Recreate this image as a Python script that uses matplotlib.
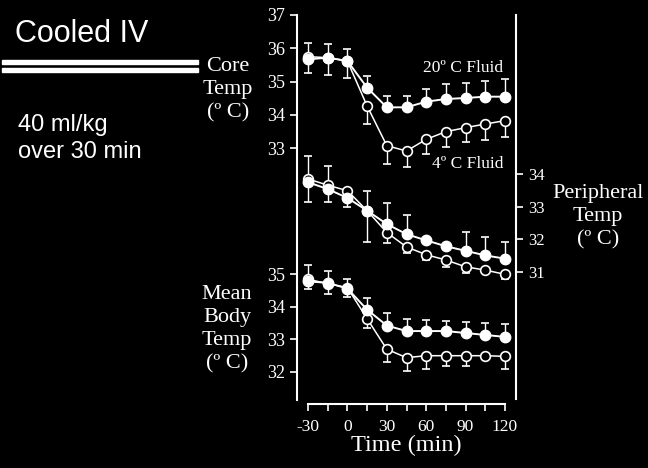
#!/usr/bin/env python
# coding:utf-8

"""
cooled_iv.py
"""

import matplotlib
matplotlib.use("Agg")
import matplotlib.pyplot as plt
from matplotlib.patches import Rectangle
import numpy as np


time_min = [-30, -15, 0, 15, 30, 45, 60, 75, 90, 105, 120]
time_ticks = [-30, 0, 30, 60, 90, 120]

# core temperature
core_20 = [35.67, 35.72, 35.62, 34.82, 34.23, 34.23, 34.40, 34.48, 34.51, 34.55, 34.55]
core_20_up = [0.50, 0.40, 0.35, 0.35, 0.34, 0.34, 0.37, 0.44, 0.44, 0.47, 0.52]
core_20_dn = [0, 0, 0, 0, 0, 0, 0, 0, 0, 0, 0]
core_4 = [35.75, 35.72, 35.62, 34.27, 33.08, 32.92, 33.27, 33.50, 33.62, 33.73, 33.83]
core_4_up = [0, 0, 0, 0, 0, 0, 0, 0, 0, 0, 0]
core_4_dn = [0.48, 0.52, 0.52, 0.54, 0.55, 0.47, 0.45, 0.45, 0.42, 0.48, 0.48]
core_ticks = [33, 34, 35, 36, 37]

# peripheral temperature
per_20 = [33.75, 33.54, 33.27, 32.88, 32.47, 32.16, 31.97, 31.79, 31.65, 31.51, 31.41]
per_20_up = [0.80, 0, 0, 0.61, 0.63, 0.58, 0, 0, 0.58, 0.55, 0.52]
per_20_dn = [0.60, 0.39, 0.29, 0.95, 0, 0, 0, 0, 0, 0, 0]
per_4 = [33.85, 33.66, 33.49, 32.88, 32.21, 31.77, 31.53, 31.37, 31.16, 31.06, 30.93]
per_4_up = [0, 0.58, 0, 0, 0, 0, 0, 0, 0, 0, 0]
per_4_dn = [0, 0, 0, 0, 0.31, 0.20, 0.16, 0.23, 0.20, 0, 0.14]
per_ticks = [31, 32, 33, 34]

# mean body temperature
mean_20 = [34.78, 34.74, 34.56, 33.91, 33.42, 33.25, 33.25, 33.25, 33.19, 33.13, 33.07]
mean_20_up = [0, 0, 0, 0.36, 0.40, 0.38, 0.35, 0.31, 0.34, 0.37, 0.39]
mean_20_dn = [0.24, 0.34, 0.26, 0, 0, 0, 0, 0, 0, 0, 0]
mean_4 = [34.85, 34.71, 34.59, 33.63, 32.69, 32.43, 32.49, 32.49, 32.49, 32.49, 32.47]
mean_4_up = [0.43, 0.39, 0.28, 0, 0, 0, 0, 0, 0, 0, 0]
mean_4_dn = [0, 0, 0, 0.28, 0.38, 0.41, 0.40, 0.33, 0.33, 0, 0.38]
mean_ticks = [32, 33, 34, 35]

SERIF = "Liberation Serif"
SANS = "Liberation Sans"
W, H = 648, 468


def px(x, y):
    """pixel position -> figure fraction"""
    return x / W, 1 - y / H


def draw_errors(ax, y, up, dn):
    """one sided error bars, drawn under the markers"""
    x = np.asarray(time_min, dtype=float)
    y = np.asarray(y, dtype=float)
    for err, side in ((np.asarray(up, dtype=float), "up"),
                      (np.asarray(dn, dtype=float), "dn")):
        m = err > 0
        if not m.any():
            continue
        zero = np.zeros(m.sum())
        yerr = [zero, err[m]] if side == "up" else [err[m], zero]
        ax.errorbar(x[m], y[m], yerr=yerr, fmt="none", ecolor="white",
                    elinewidth=1.0, capsize=3, capthick=1.2, zorder=2)


def draw_pair(ax, y20, up20, dn20, y4, up4, dn4):
    """filled (20 C) and open (4 C) series"""
    draw_errors(ax, y20, up20, dn20)
    draw_errors(ax, y4, up4, dn4)
    ax.plot(time_min, y4, color="white", lw=1.1, marker="o", ms=7,
            mfc="black", mec="white", mew=1.2, zorder=3)
    ax.plot(time_min, y20, color="white", lw=1.4, marker="o", ms=7.5,
            mfc="white", mec="white", zorder=4)


def style_ax(ax):
    ax.set_facecolor("none")
    for s in ax.spines.values():
        s.set_visible(False)
    ax.set_xlim(-38.4, 128.4)
    ax.tick_params(colors="white", width=1.2, length=5, labelsize=13)


def main():
    plt.rcParams["font.family"] = [SERIF, "DejaVu Serif"]
    plt.rcParams["axes.unicode_minus"] = False
    fig = plt.figure(figsize=(6.48, 4.68), dpi=100, facecolor="black")

    l, b = px(297, 404)
    r, t = px(516, 15)
    rect = [l, b, r - l, t - b]

    ax_core = fig.add_axes(rect)
    ax_per = fig.add_axes(rect, sharex=ax_core)
    ax_mean = fig.add_axes(rect, sharex=ax_core)
    for ax in (ax_core, ax_per, ax_mean):
        style_ax(ax)

    # core
    ax_core.set_ylim(25.33, 37)
    ax_core.spines["left"].set_visible(True)
    ax_core.spines["left"].set_color("white")
    ax_core.spines["left"].set_linewidth(1.5)
    ax_core.spines["left"].set_bounds(25.45, 37)
    ax_core.spines["bottom"].set_visible(True)
    ax_core.spines["bottom"].set_color("white")
    ax_core.spines["bottom"].set_linewidth(1.5)
    ax_core.spines["bottom"].set_bounds(-30, 120)
    ax_core.set_yticks(core_ticks)
    ax_core.set_xticks(time_ticks)
    ax_core.set_xticks(time_min, minor=True)
    ax_core.tick_params(axis="x", which="both", length=5, width=1.2,
                        colors="white", labelsize=12.5, pad=6)
    ax_core.set_xlabel("Time (min)", color="white", fontsize=17.5,
                       labelpad=0)
    draw_pair(ax_core, core_20, core_20_up, core_20_dn,
              core_4, core_4_up, core_4_dn)

    # peripheral
    ax_per.set_ylim(26.96, 38.87)
    ax_per.spines["right"].set_visible(True)
    ax_per.spines["right"].set_color("white")
    ax_per.spines["right"].set_linewidth(1.5)
    ax_per.spines["right"].set_bounds(27.11, 38.87)
    ax_per.yaxis.tick_right()
    ax_per.set_yticks(per_ticks)
    ax_per.tick_params(axis="y", labelsize=12)
    ax_per.tick_params(axis="x", which="both", bottom=False,
                       labelbottom=False)
    draw_pair(ax_per, per_20, per_20_up, per_20_dn,
              per_4, per_4_up, per_4_dn)

    # mean body
    ax_mean.set_ylim(31, 43)
    ax_mean.set_yticks(mean_ticks)
    ax_mean.tick_params(axis="x", which="both", bottom=False,
                        labelbottom=False)
    draw_pair(ax_mean, mean_20, mean_20_up, mean_20_dn,
              mean_4, mean_4_up, mean_4_dn)

    # labels
    lab = dict(color="white", fontsize=16, ha="center", va="center",
               linespacing=1.28)
    fig.text(*px(228, 90), "Core\nTemp\n(º C)", **lab)
    fig.text(*px(227, 329), "Mean\nBody\nTemp\n(º C)", **lab)
    fig.text(*px(598, 217), "Peripheral\nTemp\n(º C)", **lab)
    fig.text(*px(503, 68), "20º C Fluid", color="white", fontsize=12.5,
             ha="right", va="center")
    fig.text(*px(503, 164), "4º C Fluid", color="white", fontsize=12.5,
             ha="right", va="center")

    fig.text(*px(15, 34), "Cooled IV", color="white", fontsize=22,
             family=SANS, ha="left", va="center")
    fig.text(*px(18, 125), "40 ml/kg", color="white", fontsize=17,
             family=SANS, ha="left", va="center")
    fig.text(*px(18, 152), "over 30 min", color="white", fontsize=17,
             family=SANS, ha="left", va="center")
    for y0 in (60, 68):
        x0, y1 = px(2, y0 + 4)
        fig.add_artist(Rectangle((x0, y1), 196 / W, 4 / H, color="white",
                                 transform=fig.transFigure))

    fig.savefig("out.png", dpi=100, facecolor="black")


if __name__ == "__main__":
    main()
